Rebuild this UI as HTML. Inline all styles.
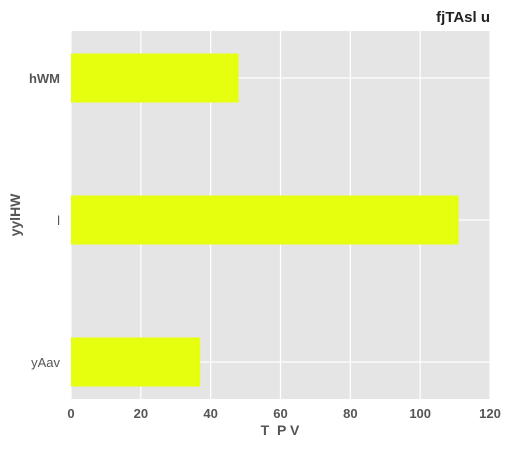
<!DOCTYPE html>
<html><head><meta charset="utf-8"><style>
body{margin:0;background:#fff;width:512px;height:448px;overflow:hidden;font-family:"Liberation Sans",sans-serif}
</style></head><body>
<svg id="c" width="512" height="448"></svg>
<script>
const categories=["yAav","l","hWM"];
const values=[37,111,48];
const xTicks=[0,20,40,60,80,100,120];
const catBold=[false,false,true];
const L=71,R=490,T=31,B=399;
const xs=v=>L+(v-0)/(120-0)*(R-L);
const ys=k=>362-k*142;
const ns="http://www.w3.org/2000/svg";
const svg=document.getElementById('c');
function mk(t,a,p){const e=document.createElementNS(ns,t);for(const k in a)e.setAttribute(k,a[k]);(p||svg).appendChild(e);return e;}
const bg=mk('rect',{x:L,y:T,width:R-L,height:B-T,fill:'#e5e5e5'});


xTicks.forEach(t=>{
 const g=mk('line',{x1:xs(t),x2:xs(t),y1:T,y2:B,stroke:'#fff','stroke-width':1.2});
 
 
 const tx=mk('text',{x:xs(t),y:418,'text-anchor':'middle','font-size':13,'font-weight':'bold',fill:'#555'});
 tx.textContent=t;
 
 
});
categories.forEach((c,k)=>{
 const g=mk('line',{x1:L,x2:R,y1:ys(k),y2:ys(k),stroke:'#fff','stroke-width':1.2});
 
 
});
categories.forEach((c,k)=>{
 const b=mk('rect',{x:xs(0),y:ys(k)-24.5,width:xs(values[k])-xs(0),height:49,fill:'#e6ff0f'});
 
 
 const tx=mk('text',{x:60,y:ys(k)+5,'text-anchor':'end','font-size':13,'font-weight':catBold[k]?'bold':'normal',fill:'#555'});
 tx.textContent=c;
 
 
});
const xt=mk('text',{x:280,y:435,'text-anchor':'middle','font-size':14,'font-weight':'bold',fill:'#555'});
xt.textContent="T  P V";xt.setAttribute('xml:space','preserve');xt.style.whiteSpace='pre';


const yt=mk('text',{x:20,y:215,'text-anchor':'middle','font-size':14,'font-weight':'bold',fill:'#555',transform:'rotate(-90 20 215)'});
yt.textContent="yylHW";


const tt=mk('text',{x:490,y:22,'text-anchor':'end','font-size':15,'font-weight':'bold',fill:'#222'});
tt.textContent="fjTAsl u";


</script>
</body></html>
